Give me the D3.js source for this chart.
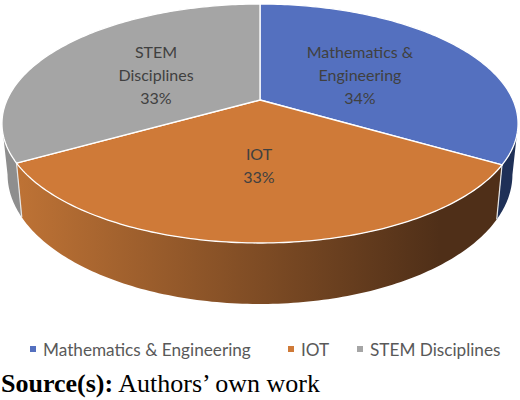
<!DOCTYPE html>
<html>
<head>
<meta charset="utf-8">
<script src="https://cdn.jsdelivr.net/npm/d3@7"></script>
<style>
html, body { margin: 0; padding: 0; background: #fff; }
svg { display: block; }
</style>
</head>
<body>
<svg id="chart" width="520" height="400"></svg>
<script>
const categories = ["Mathematics & Engineering", "IOT", "STEM Disciplines"];
const values = [33.5, 33.25, 33.25];
const colors = ["#5470bf", "#cf7a38", "#a5a5a5"];
const sideColors = [["#1f3057", "#1f3057"], ["#bd7235", "#4f2f18"], ["#8e8e8e", "#9a9a9a"]];
const labelLines = [["Mathematics &", "Engineering"], ["IOT"], ["STEM", "Disciplines"]];
const labelPos = [[360, 58], [259, 160], [156, 58]];

const svg = d3.select("#chart");
const defs = svg.append("defs");

const cx = 260;
const persp = -0.1967;

// circle to screen, the far side of the pie is squeezed
function project(angle, o) {
    const x = Math.sin(angle);
    const y = -Math.cos(angle);
    const den = 1 + persp * y;
    return [cx + o.sx * x / den, (o.a * y + o.b) / den];
}
const topFace = { sx: 253, a: 95.2, b: 100 };
const bottomFace = { sx: 247.5, a: 95.2, b: 149 };

const arcs = d3.pie().value(d => d).sort(null)(values);
const line = d3.line();

function arcPoints(start, end, o) {
    const n = Math.ceil((end - start) * 60);
    return d3.range(n + 1).map(i => project(start + (end - start) * i / n, o));
}

const frontStart = Math.PI / 2 + 0.2;
const frontEnd = Math.PI * 1.5 - 0.2;

// sides first, only the part of each slice facing the viewer
arcs.forEach((d, i) => {
    const id = "side" + i;
    const start = Math.max(d.startAngle, frontStart);
    const end = Math.min(d.endAngle, frontEnd);
    const topPts = arcPoints(start, end, topFace);
    const botPts = arcPoints(start, end, bottomFace).reverse();
    const grad = defs.append("linearGradient")
        .attr("id", id)
        .attr("gradientUnits", "userSpaceOnUse")
        .attr("x1", 20).attr("x2", 440).attr("y1", 0).attr("y2", 0);
    grad.append("stop").attr("offset", 0).attr("stop-color", sideColors[i][0]);
    grad.append("stop").attr("offset", 1).attr("stop-color", sideColors[i][1]);
    svg.append("path")
        .attr("d", line(topPts.concat(botPts)) + "Z")
        .attr("fill", `url(#${id})`);
});

// white seams on the slice edges that show
arcs.forEach(d => {
    const a = d.endAngle;
    if (a > frontStart && a < frontEnd) {
        svg.append("path")
            .attr("d", line([project(a, topFace), project(a, bottomFace)]))
            .attr("stroke", "#e6e6e6")
            .attr("stroke-width", 1.2);
    }
});

arcs.forEach((d, i) => {
    const pts = [[cx, topFace.b]].concat(arcPoints(d.startAngle, d.endAngle, topFace));
    svg.append("path")
        .attr("d", line(pts) + "Z")
        .attr("fill", colors[i])
        .attr("stroke", "#fff")
        .attr("stroke-width", 1.3)
        .attr("stroke-linejoin", "round");
});

arcs.forEach((d, i) => {
    const t = svg.append("text")
        .attr("text-anchor", "middle")
        .attr("font-family", "Lato, 'Open Sans', sans-serif")
        .attr("font-size", 16)
        .attr("fill", "#404040");
    const lines = labelLines[i].concat(Math.round(d.value) + "%");
    lines.forEach((s, j) => {
        t.append("tspan")
            .attr("x", labelPos[i][0])
            .attr("y", labelPos[i][1] + j * 23)
            .text(s);
    });
});

// legend
const legendX = [30, 288, 357];
categories.forEach((c, i) => {
    svg.append("rect")
        .attr("x", legendX[i])
        .attr("y", 346)
        .attr("width", 6)
        .attr("height", 6)
        .attr("fill", colors[i]);
    svg.append("text")
        .attr("x", legendX[i] + 13)
        .attr("y", 356)
        .attr("font-family", "Lato, 'Open Sans', sans-serif")
        .attr("font-size", 17.2)
        .attr("fill", "#595959")
        .text(c);
});

const src = svg.append("text")
    .attr("x", 1)
    .attr("y", 392)
    .attr("font-family", "'Liberation Serif', serif")
    .attr("font-size", 26)
    .attr("fill", "#000");
src.append("tspan").attr("font-weight", "bold").text("Source(s):");
src.append("tspan").text(" Authors\u2019 own work");
</script>
</body>
</html>
